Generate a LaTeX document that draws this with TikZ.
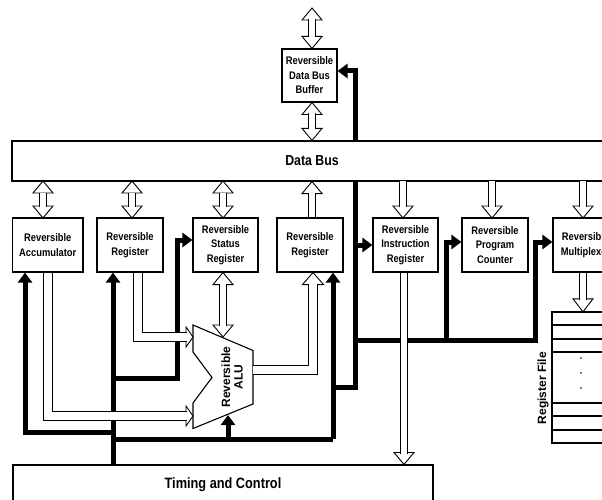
\documentclass[tikz,border=0pt]{standalone}
\usepackage{fontspec}
\newfontfamily\nar[FakeStretch=0.85]{Liberation Sans}
\newfontfamily\arl{Liberation Sans}
\usetikzlibrary{arrows.meta,calc}
\newcommand{\hd}[4]{\draw[hh, shift={(#1)}, rotate=#2] (0,0) -- (-#3,#4) -- (-#3,-#4) -- cycle;}
\begin{document}
\begin{tikzpicture}[x=1pt,y=-1pt,
  box/.style={draw, line width=1.1pt, fill=white, inner sep=0pt, align=center,
    minimum height=54pt, font=\nar\bfseries\fontsize{11}{14.5}\selectfont},
  bigbox/.style={draw, line width=1.1pt, fill=white, inner sep=0pt, minimum height=40pt,
    font=\nar\bfseries\fontsize{15}{18}\selectfont},
  thk/.style={line width=5pt, line join=miter},
  thka/.style={thk, -{Triangle[width=14pt,length=10pt]}},
  hh/.style={draw, fill=white, line width=0.9pt, line join=miter},
  hs/.style={double=white, double distance=6.4pt, line width=0.9pt, line join=miter},
  hsw/.style={double=white, double distance=8.2pt, line width=0.9pt, line join=miter},
  rot/.style={rotate=90, align=center, font=\arl\bfseries\fontsize{12}{12.5}\selectfont}
]
\useasboundingbox (0,0) rectangle (602,500);
\clip (0,0) rectangle (602,500);

% ---- nodes (placed first so anchors exist; redrawn on top later) ----
\path
  node[box, minimum width=55pt, minimum height=53pt] (buf) at (309.5,75.5) {}
  node[bigbox, minimum width=600pt] (bus) at (312,161) {}
  node[box, minimum width=70.5pt] (acc) at (47.75,245) {}
  node[box, minimum width=66pt] (reg1) at (130,245) {}
  node[box, minimum width=65pt] (stat) at (225.5,245) {}
  node[box, minimum width=66pt] (reg2) at (310,245) {}
  node[box, minimum width=65pt] (ins) at (405.5,245) {}
  node[box, minimum width=66pt] (pc) at (495,245) {}
  node[box, minimum width=65pt] (mux) at (585.5,245) {}
  node[bigbox, minimum width=420pt] (tim) at (223,485) {};

\coordinate (xa) at (25,0);
\coordinate (xb) at (113,0);
\coordinate (xe) at (333,0);

% ---- thick control lines ----
\draw[thka] (xb |- tim.north) -- (xb |- reg1.south);
\draw[thka] (113,432) -- (25,432) -- (xa |- acc.south);
\draw[thka] (113,378) -- (177,378) -- (177,240) -- (stat.west |- 0,240);
\draw[thk] (113,439) -- (333,439);
\draw[thka] (333,439) -- (xe |- reg2.south);
\draw[thka] (228,439) -- (228,415);
\draw[thka] (333,387) -- (355,387) -- (355,71) -- (buf.east |- 0,71);
\draw[thka] (355,245) -- (ins.west |- 0,245);
\draw[thka] (355,340) -- (535,340) -- (535,242) -- (mux.west |- 0,242);
\draw[thka] (446,340) -- (446,242) -- (pc.west |- 0,242);

% ---- boxes ----
\node[box, minimum width=55pt, minimum height=53pt] (buf) at (309.5,75.5) {Reversible\\Data Bus\\Buffer};
\node[bigbox, minimum width=600pt, font=\nar\bfseries\fontsize{14.5}{17}\selectfont] (bus) at (312,161) {Data Bus};
\node[box, minimum width=70.5pt] (acc) at (47.75,245) {Reversible\\Accumulator};
\node[box, minimum width=66pt] (reg1) at (130,245) {Reversible\\Register};
\node[box, minimum width=65pt] (stat) at (225.5,245) {Reversible\\Status\\Register};
\node[box, minimum width=66pt] (reg2) at (310,245) {Reversible\\Register};
\node[box, minimum width=65pt] (ins) at (405.5,245) {Reversible\\Instruction\\Register};
\node[box, minimum width=66pt] (pc) at (495,245) {Reversible\\Program\\Counter};
\node[box, minimum width=65pt] (mux) at (585.5,245) {Reversible\\Multiplexer};
\node[bigbox, minimum width=420pt] (tim) at (223,485) {Timing and Control};

% ---- ALU ----
\draw[line width=1.1pt, fill=white, line join=miter] (193,325) -- (253,350.5) -- (253,404)
  -- (193,428.5) -- (193,403) -- (212,377.5) -- (193,352) -- cycle;
\node[rot] (alu) at (232,377) {Reversible\\ALU};

% ---- register file ----
\draw[line width=1.1pt, fill=white] (552,312) rectangle (640,443);
\node[draw=none, inner sep=0pt, minimum width=60pt, minimum height=131pt] (rf) at (582,377.5) {};
\foreach \yy in {325,339,352,403,416,430} \draw[line width=1.1pt] (552,\yy) -- (640,\yy);
\foreach \yy in {358,373,388} \fill (581,\yy) circle (0.8pt);
\node[rot] (rft) at (543,388) {Register File};

% ---- hollow arrows: buffer ----
\hd{312,8}{90}{12}{10}
\hd{buf.north -| 312,0}{270}{12}{10}
\draw[hs] (312,19.5) -- (312,37.5);
\hd{buf.south -| 312,0}{90}{12}{10}
\hd{bus.north -| 312,0}{270}{12}{10}
\draw[hs] (312,113.5) -- (312,129.5);

% ---- hollow arrows: bus to registers ----
\foreach \xx in {43,132,223}{
  \hd{\xx,181}{90}{12}{10}
  \hd{\xx,218}{270}{12}{10}
  \draw[hs] (\xx,192.5) -- (\xx,206.5);
}
\hd{bus.south -| 312,0}{90}{12}{10}
\draw[hs] (reg2.north -| 312,0) -- (312,192.5);
\foreach \xx in {403,492,583}{
  \hd{\xx,218}{270}{12}{10}
  \draw[hs] (\xx,181) -- (\xx,206.5);
}

% ---- hollow arrows: lower part ----
\hd{193,337}{0}{7}{10}
\draw[hsw] (reg1.south -| 138,0) -- (138,337) -- (186.5,337);
\hd{193,416}{0}{7}{10}
\draw[hsw] (acc.south -| 48,0) -- (48,416) -- (186.5,416);
\hd{reg2.south -| 313,0}{90}{12}{10.5}
\draw[hsw] (253,370) -- (313,370) -- (313,283.5);
\hd{stat.south -| 223,0}{90}{12}{10}
\hd{223,337}{270}{12}{10}
\draw[hs] (223,283.5) -- (223,325.5);
\hd{tim.north -| 404,0}{270}{12}{10}
\draw[hs] (ins.south -| 404,0) -- (404,453.5);
\hd{rf.north -| 583,0}{270}{13}{10}
\draw[hs] (mux.south -| 583,0) -- (583,299.5);
\end{tikzpicture}
\end{document}
